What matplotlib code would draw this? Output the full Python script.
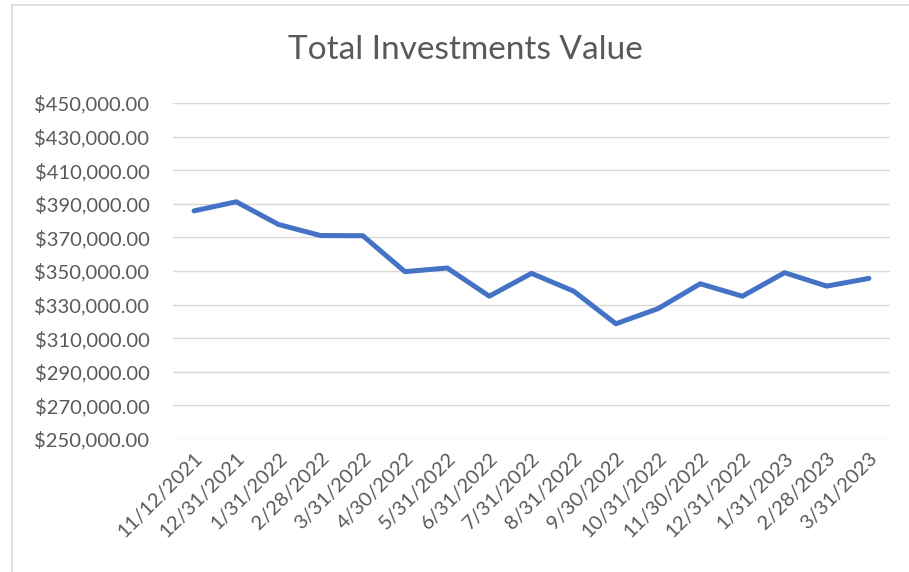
import matplotlib
matplotlib.use("Agg")
import matplotlib.pyplot as plt
from matplotlib.ticker import FuncFormatter
from matplotlib.lines import Line2D
from matplotlib.transforms import ScaledTranslation

plt.rcParams['font.family'] = ['Lato', 'DejaVu Sans']

# dates as shown on the category axis
dates = ["11/12/2021", "12/31/2021", "1/31/2022", "2/28/2022", "3/31/2022",
         "4/30/2022", "5/31/2022", "6/31/2022", "7/31/2022", "8/31/2022",
         "9/30/2022", "10/31/2022", "11/30/2022", "12/31/2022", "1/31/2023",
         "2/28/2023", "3/31/2023"]
# values
values = [385800, 391200, 377700, 371100, 371000,
          349600, 351800, 335000, 348600, 338000,
          318600, 327600, 342400, 335000, 349000,
          341000, 345600]
yticks = list(range(250000, 450001, 20000))

txt = "#595959"
grid = "#D9D9D9"

fig = plt.figure(figsize=(9.09, 5.72), dpi=100)
ax = fig.add_axes([173/909, 1-439/572, (890-173)/909, (439-103)/572])

x = range(len(dates))
ax.plot(x, values, color="#4472C4", lw=3.6, solid_capstyle="round",
        solid_joinstyle="round", zorder=3)

ax.set_xlim(-0.5, len(dates)-0.5)
ax.set_ylim(yticks[0], yticks[-1])
ax.set_yticks(yticks)
ax.yaxis.set_major_formatter(FuncFormatter(lambda v, p: "${:,.2f}".format(v)))
ax.grid(axis="y", color=grid, lw=1.0)
ax.set_axisbelow(True)
for s in ax.spines.values():
    s.set_visible(False)
ax.tick_params(length=0, colors=txt, labelsize=14.5)
ax.tick_params(axis="y", pad=17)
ax.set_xticks(list(x))
ax.set_xticklabels(dates, rotation=45, ha="right", rotation_mode="anchor",
                   va="center")
ax.tick_params(axis="x", pad=12)
# nudge the slanted labels a bit to the right, like excel does
shift = ScaledTranslation(6/100, 0, fig.dpi_scale_trans)
for lbl in ax.get_xticklabels():
    lbl.set_transform(lbl.get_transform() + shift)

fig.text(465/909, 1-59/572, "Total Investments Value", ha="center",
         va="baseline", fontsize=24, color=txt)

# chart area border
fig.add_artist(Line2D([11.5/909, 11.5/909], [0, 1-5/572], color=grid, lw=1.2))
fig.add_artist(Line2D([11.5/909, 1], [1-5/572, 1-5/572], color=grid, lw=1.2))

fig.savefig("out.png", dpi=100, facecolor="white")
